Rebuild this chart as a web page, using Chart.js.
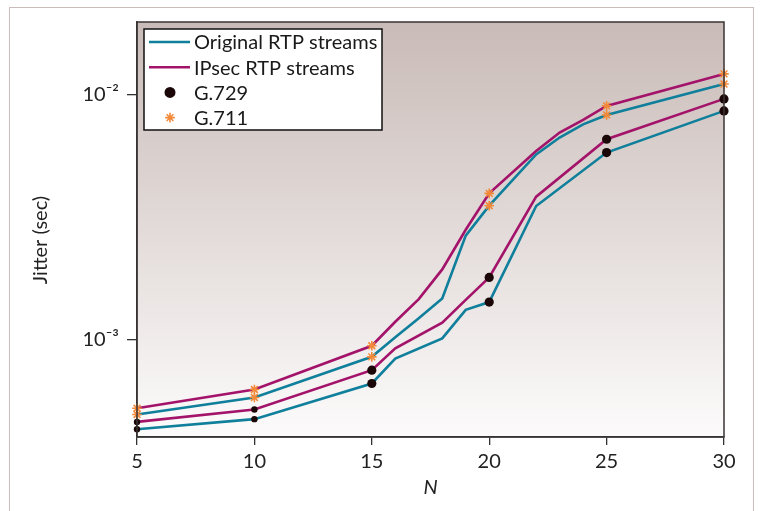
<!DOCTYPE html>
<html>
<head>
<meta charset="utf-8">
<script src="https://cdn.jsdelivr.net/npm/chart.js@4.4.0/dist/chart.umd.min.js"></script>
<style>
  html, body { margin: 0; padding: 0; background: #fff; }
  #wrap { position: relative; width: 761px; height: 511px; overflow: hidden; }
  #frame { position: absolute; left: 9px; top: 7px; width: 745px; height: 530px; border: 1.5px solid #cbbcbc; box-sizing: border-box; }
  #chart { position: absolute; left: 0; top: 0; }
</style>
</head>
<body>
<div id="wrap">
  <div id="frame"></div>
  <canvas id="chart" width="761" height="511"></canvas>
</div>
<script>
// values (jitter in seconds vs N)
const markerN = [5, 10, 15, 20, 25, 30];

const origG711N = [5, 10, 15, 16, 17, 18, 19, 20, 22, 23, 24, 25, 30];
const origG711Jitter = [0.000494, 0.00058, 0.000849, 0.00102, 0.00122, 0.00147, 0.00265, 0.00351, 0.00568, 0.00666, 0.00753, 0.00823, 0.0110];

const ipsecG711N = [5, 10, 15, 16, 17, 18, 19, 20, 22, 23, 24, 25, 30];
const ipsecG711Jitter = [0.000524, 0.000625, 0.000942, 0.00118, 0.00146, 0.00193, 0.0028, 0.00394, 0.00587, 0.00698, 0.00786, 0.00896, 0.0121];

const origG729N = [5, 10, 15, 16, 18, 19, 20, 22, 25, 30];
const origG729Jitter = [0.00043, 0.000473, 0.000661, 0.000835, 0.00101, 0.00132, 0.00142, 0.0035, 0.00578, 0.00855];

const ipsecG729N = [5, 10, 15, 16, 18, 19, 20, 22, 25, 30];
const ipsecG729Jitter = [0.000461, 0.000518, 0.000749, 0.000919, 0.00117, 0.00145, 0.00179, 0.00382, 0.00655, 0.00957];

const xTicks = [5, 10, 15, 20, 25, 30];
const yTicks = [0.001, 0.01];
const yTickLabels = ['10⁻³', '10⁻²'];

const TEAL = '#0f7f9b';
const MAGENTA = '#a3136a';
const DOT = '#1b0707';
const STAR = '#f28a3a';
const FONT = 'Lato, "Open Sans", sans-serif';

const toPoints = (xs, ys) => xs.map((n, i) => ({ x: n, y: ys[i] }));

function series(label, xs, ys, color, marker) {
  return {
    label,
    data: toPoints(xs, ys),
    borderColor: color,
    borderWidth: 2.6,
    tension: 0,
    clip: false,
    pointStyle: marker === 'star' ? 'star' : 'circle',
    pointBackgroundColor: marker === 'star' ? STAR : DOT,
    pointBorderColor: marker === 'star' ? STAR : DOT,
    pointBorderWidth: marker === 'star' ? 1.6 : 0,
    pointRadius: ctx => {
      const n = ctx.raw.x;
      if (!markerN.includes(n)) return 0;
      if (marker === 'dot') return n <= 10 ? 3.2 : 4.6;
      return 4.8;
    },
    pointHoverRadius: 0
  };
}

const legendItems = [
  { text: 'Original RTP streams', kind: 'line', color: TEAL },
  { text: 'IPsec RTP streams', kind: 'line', color: MAGENTA },
  { text: 'G.729', kind: 'circle', color: DOT },
  { text: 'G.711', kind: 'star', color: STAR }
];

const plotDecor = {
  id: 'plotDecor',
  beforeDraw(chart) {
    const { ctx, chartArea: a } = chart;
    const g = ctx.createLinearGradient(0, a.top, 0, a.bottom);
    g.addColorStop(0, '#c9bbb7');
    g.addColorStop(1, '#fcfbfb');
    ctx.save();
    ctx.fillStyle = g;
    ctx.fillRect(a.left, a.top, a.right - a.left, a.bottom - a.top);
    ctx.restore();
  },
  afterDraw(chart) {
    const { ctx, chartArea: a } = chart;
    ctx.save();
    ctx.strokeStyle = '#3a3535';
    ctx.lineWidth = 1.5;
    ctx.strokeRect(a.left, a.top, a.right - a.left, a.bottom - a.top);

    // y title
    ctx.fillStyle = '#222';
    ctx.font = '20px ' + FONT;
    ctx.textAlign = 'center';
    ctx.textBaseline = 'middle';
    ctx.translate(41, 240);
    ctx.rotate(-Math.PI / 2);
    ctx.fillText('Jitter (sec)', 0, 0);
    ctx.restore();

    // legend box
    const bx = a.left + 7, by = a.top + 7, bw = 238, bh = 101;
    ctx.save();
    ctx.fillStyle = '#fff';
    ctx.fillRect(bx, by, bw, bh);
    ctx.strokeStyle = '#111';
    ctx.lineWidth = 1.5;
    ctx.strokeRect(bx, by, bw, bh);
    ctx.font = '20px ' + FONT;
    ctx.textBaseline = 'middle';
    ctx.textAlign = 'left';
    legendItems.forEach((it, i) => {
      const y = by + 13 + i * 25.2;
      if (it.kind === 'line') {
        ctx.strokeStyle = it.color;
        ctx.lineWidth = 2.6;
        ctx.beginPath();
        ctx.moveTo(bx + 5, y);
        ctx.lineTo(bx + 46, y);
        ctx.stroke();
      } else {
        ctx.fillStyle = it.color;
        ctx.strokeStyle = it.color;
        ctx.lineWidth = it.kind === 'star' ? 1.6 : 0;
        Chart.helpers.drawPoint(ctx, { pointStyle: it.kind, radius: it.kind === 'star' ? 4.8 : 4.2, borderWidth: ctx.lineWidth, rotation: 0 }, bx + 26, y);
      }
      ctx.fillStyle = '#1a1a1a';
      ctx.fillText(it.text, bx + 50, y + 1);
    });
    ctx.restore();
  }
};

new Chart(document.getElementById('chart'), {
  type: 'line',
  data: {
    datasets: [
      series('Original RTP streams G.729', origG729N, origG729Jitter, TEAL, 'dot'),
      series('IPsec RTP streams G.729', ipsecG729N, ipsecG729Jitter, MAGENTA, 'dot'),
      series('Original RTP streams G.711', origG711N, origG711Jitter, TEAL, 'star'),
      series('IPsec RTP streams G.711', ipsecG711N, ipsecG711Jitter, MAGENTA, 'star')
    ]
  },
  options: {
    responsive: false,
    animation: false,
    layout: { padding: { top: 22, right: 37, left: 0, bottom: 0 } },
    plugins: { legend: { display: false }, tooltip: { enabled: false } },
    scales: {
      x: {
        type: 'linear',
        min: 5,
        max: 30,
        afterFit: s => { s.height = 74; },
        afterBuildTicks: s => { s.ticks = xTicks.map(v => ({ value: v })); },
        grid: { display: true, drawOnChartArea: false, drawTicks: true, tickLength: 8, color: '#333', lineWidth: 1.3 },
        border: { display: true, color: '#333', width: 1.5 },
        ticks: { color: '#222', font: { family: FONT, size: 20 }, padding: 5 },
        title: { display: true, text: 'N', color: '#222', font: { family: FONT, size: 20, style: 'italic' }, padding: { top: 0, bottom: 11 } }
      },
      y: {
        type: 'logarithmic',
        min: 0.0004,
        max: 0.0197,
        afterFit: s => { s.width = 137; },
        afterBuildTicks: s => { s.ticks = yTicks.map(v => ({ value: v })); },
        grid: { display: true, drawOnChartArea: false, drawTicks: true, tickLength: 10, color: '#333', lineWidth: 1.3 },
        border: { display: true, color: '#333', width: 1.5 },
        ticks: {
          color: '#222',
          font: { family: FONT, size: 20 },
          padding: 8,
          callback: v => yTickLabels[yTicks.indexOf(v)] ?? ''
        }
      }
    }
  },
  plugins: [plotDecor]
});
</script>
</body>
</html>
